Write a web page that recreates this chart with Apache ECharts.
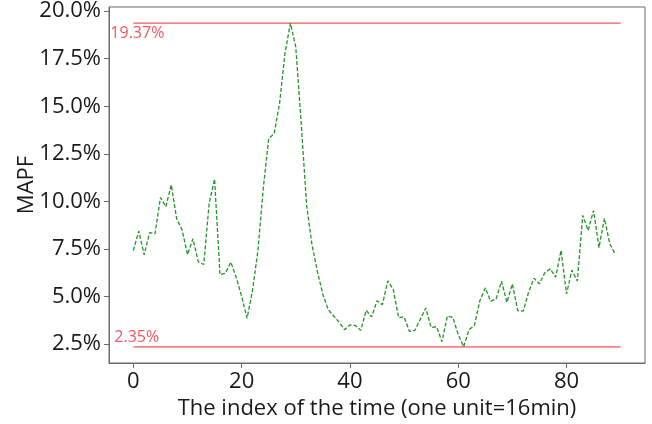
<!DOCTYPE html>
<html>
<head>
<meta charset="utf-8">
<script src="https://cdn.jsdelivr.net/npm/echarts@6/dist/echarts.min.js"></script>
<style>
html,body{margin:0;padding:0;background:#fff;}
#c{width:652px;height:424px;}
</style>
</head>
<body>
<div id="c"></div>
<script>
// MAPF (%) for each time index 0..89
const mapf = [
  7.41, 8.43, 7.19, 8.36, 8.30, 10.20, 9.72, 10.87, 9.08, 8.50,
  7.20, 8.03, 6.82, 6.68, 9.90, 11.17, 6.14, 6.22, 6.80, 6.00,
  5.00, 3.85, 5.30, 7.40, 10.70, 13.30, 13.56, 15.15, 17.77, 19.37,
  18.12, 14.10, 9.80, 7.70, 6.30, 5.10, 4.30, 3.97, 3.65, 3.25,
  3.50, 3.47, 3.22, 4.27, 3.92, 4.77, 4.57, 5.82, 5.37, 3.88,
  3.93, 3.16, 3.22, 3.80, 4.39, 3.36, 3.41, 2.62, 3.97, 3.90,
  3.00, 2.35, 3.25, 3.48, 4.78, 5.45, 4.75, 4.87, 5.80, 4.69,
  5.66, 4.25, 4.23, 5.22, 5.96, 5.66, 6.25, 6.45, 6.01, 7.43,
  5.13, 6.38, 5.81, 9.26, 8.47, 9.52, 7.57, 9.11, 7.77, 7.22
];
// reference lines (max / min)
const refValues = [19.37, 2.35];
const refStart = 0;
const refEnd = 90;
// tick labels
const xTicks = [0, 20, 40, 60, 80];
const yTicks = [2.5, 5.0, 7.5, 10.0, 12.5, 15.0, 17.5, 20.0];

const FONT = "'Open Sans', 'Noto Sans', sans-serif";
const chart = echarts.init(document.getElementById('c'), null, {renderer: 'canvas'});

const mainData = mapf.map((v, i) => [i, v]);
const refSeries = refValues.map(v => ({
  type: 'line',
  data: [[refStart, v], [refEnd, v]],
  showSymbol: false,
  symbol: 'none',
  silent: true,
  lineStyle: {color: '#f35555', width: 1.3},
  z: 2
}));
const labelOffsets = [[-23, 10], [-19, -9]];
const labelSeries = {
  type: 'scatter',
  symbolSize: 1,
  itemStyle: {color: 'rgba(0,0,0,0)'},
  silent: true,
  data: refValues.map((v, k) => ({
    value: [refStart, v],
    label: {
      show: true,
      position: 'inside',
      align: 'left',
      verticalAlign: 'middle',
      offset: labelOffsets[k],
      formatter: v.toFixed(2) + '%',
      color: '#ee2a3a',
      fontSize: 16,
      fontFamily: FONT
    }
  })),
  z: 4
};

chart.setOption({
  animation: false,
  backgroundColor: '#ffffff',
  grid: {
    left: 109, right: 7, top: 7, bottom: 61,
    show: true, borderColor: '#6a6a6a', borderWidth: 1,
    outerBoundsMode: 'none', containLabel: false
  },
  xAxis: {
    type: 'value',
    min: -4.5, max: 94.5,
    name: 'The index of the time (one unit=16min)',
    nameLocation: 'middle',
    nameGap: 31,
    nameTextStyle: {fontSize: 22, color: '#1a1a1a', fontFamily: FONT},
    axisLine: {show: true, onZero: false, lineStyle: {color: '#6a6a6a'}},
    axisTick: {show: true, length: 5, lineStyle: {color: '#6a6a6a'}, customValues: xTicks},
    axisLabel: {fontSize: 22, color: '#1a1a1a', fontFamily: FONT, margin: 8, customValues: xTicks,
      formatter: v => String(v)},
    splitLine: {show: false}
  },
  yAxis: {
    type: 'value',
    min: 1.499, max: 20.221,
    name: 'MAPF',
    nameLocation: 'middle',
    nameGap: 71,
    nameMoveOverlap: false,
    nameTextStyle: {fontSize: 22, color: '#1a1a1a', fontFamily: FONT},
    axisLine: {show: true, onZero: false, lineStyle: {color: '#6a6a6a'}},
    axisTick: {show: true, length: 5, lineStyle: {color: '#6a6a6a'}, customValues: yTicks},
    axisLabel: {fontSize: 22, color: '#1a1a1a', fontFamily: FONT, margin: 8, customValues: yTicks,
      formatter: v => v.toFixed(1) + '%'},
    splitLine: {show: false}
  },
  series: [
    ...refSeries,
    {
      type: 'line',
      data: mainData,
      showSymbol: false,
      symbol: 'none',
      lineStyle: {color: '#239323', width: 1.3, type: [4, 2]},
      z: 3
    },
    labelSeries
  ]
});
</script>
</body>
</html>
